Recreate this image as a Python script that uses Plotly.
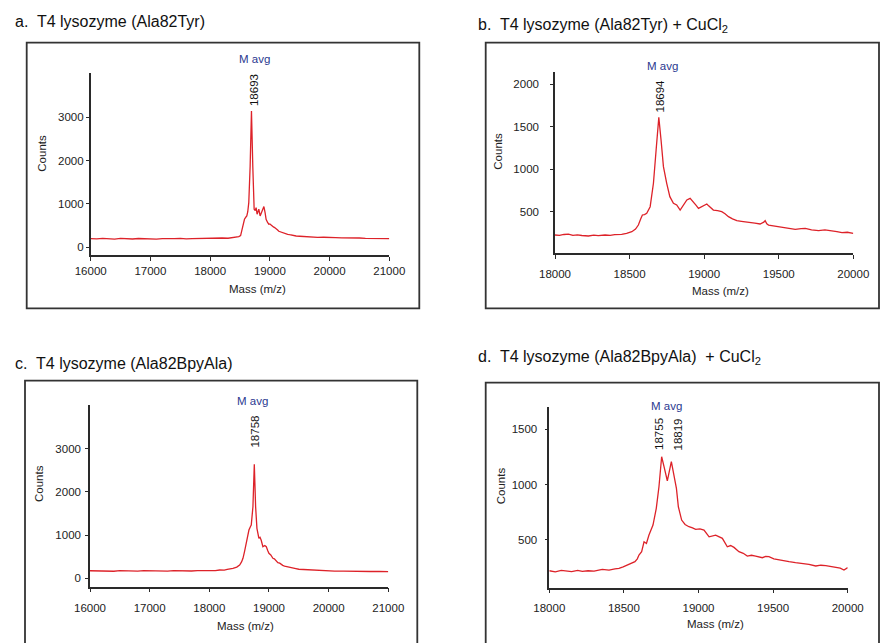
import plotly.graph_objects as go

W, H = 888, 643

# ---------------- data ----------------
mass_a = [16000, 16100, 16200, 16300, 16400, 16500, 16600, 16700, 16800, 16900, 17000, 17100,
          17200, 17300, 17400, 17500, 17600, 17700, 17800, 17900, 18000, 18100, 18200, 18300,
          18400, 18450, 18480, 18510, 18530, 18555, 18575, 18600, 18614, 18630, 18647, 18670,
          18692, 18714, 18737, 18755, 18770, 18786, 18800, 18815, 18837, 18860, 18882, 18900,
          18920, 18937, 18960, 18982, 19000, 19020, 19040, 19060, 19080, 19104, 19130, 19150,
          19170, 19187, 19210, 19240, 19270, 19299, 19330, 19370, 19400, 19440, 19500, 19550,
          19600, 19660, 19720, 19800, 19900, 20000, 20100, 20200, 20300, 20400, 20500, 20600,
          20700, 20800, 20900, 21000]
counts_a = [200, 192, 204, 196, 188, 205, 197, 191, 203, 195, 199, 190,
            202, 194, 200, 206, 193, 199, 204, 198, 208, 202, 214, 209,
            222, 230, 245, 270, 380, 560, 647, 700, 723, 820, 1032, 1878,
            3148, 1878, 878, 850, 916, 762, 800, 878, 723, 800, 916, 940,
            800, 647, 580, 531, 540, 508, 490, 470, 455, 416, 400, 370,
            360, 339, 330, 320, 305, 300, 290, 275, 270, 261, 255, 250,
            252, 247, 240, 230, 232, 220, 224, 215, 218, 210, 214, 205,
            208, 200, 203, 200]

mass_b = [18000, 18030, 18060, 18090, 18120, 18150, 18180, 18224, 18260, 18290, 18336, 18370,
          18400, 18447, 18480, 18515, 18540, 18559, 18575, 18586, 18600, 18615, 18638, 18660,
          18678, 18696, 18711, 18727, 18749, 18770, 18794, 18805, 18816, 18839, 18861, 18884,
          18906, 18928, 18945, 18962, 18980, 18996, 19018, 19030, 19040, 19062, 19090, 19118,
          19140, 19163, 19190, 19219, 19250, 19297, 19340, 19375, 19400, 19409, 19420, 19432,
          19480, 19521, 19560, 19611, 19650, 19678, 19720, 19767, 19810, 19857, 19890, 19924,
          19960, 20000]
counts_b = [230, 225, 236, 241, 226, 232, 224, 218, 228, 222, 230, 225,
            234, 238, 250, 269, 300, 347, 420, 465, 470, 484, 562, 837,
            1228, 1611, 1345, 1032, 837, 680, 602, 590, 582, 523, 582, 641,
            660, 621, 580, 543, 560, 570, 594, 572, 555, 523, 515, 504,
            480, 445, 420, 398, 390, 374, 368, 359, 380, 398, 360, 347,
            335, 320, 310, 297, 305, 308, 290, 281, 290, 281, 270, 257,
            262, 250]

mass_c = [16000, 16100, 16200, 16300, 16400, 16500, 16600, 16700, 16800, 16900, 17000, 17100,
          17200, 17300, 17400, 17500, 17600, 17700, 17800, 17900, 18000, 18100, 18174, 18250,
          18300, 18350, 18396, 18460, 18508, 18540, 18564, 18590, 18620, 18640, 18664, 18690,
          18703, 18731, 18754, 18776, 18798, 18831, 18850, 18870, 18898, 18930, 18955, 18980,
          18999, 19030, 19066, 19090, 19110, 19149, 19180, 19200, 19230, 19261, 19300, 19330,
          19370, 19400, 19450, 19500, 19560, 19623, 19700, 19780, 19846, 19950, 20100, 20250,
          20401, 20550, 20700, 20850, 21000]
counts_c = [175, 168, 178, 170, 164, 176, 169, 173, 165, 177, 172, 166,
            174, 168, 178, 171, 176, 169, 180, 174, 182, 178, 192, 188,
            205, 210, 231, 260, 308, 380, 463, 620, 810, 1000, 1118, 1200,
            1234, 1657, 2640, 1657, 1157, 926, 950, 880, 731, 760, 731, 640,
            578, 540, 463, 450, 410, 361, 350, 320, 300, 285, 270, 255,
            250, 231, 225, 210, 205, 192, 188, 180, 169, 172, 165, 168,
            162, 160, 158, 162, 155]

mass_d = [18000, 18040, 18080, 18110, 18150, 18190, 18221, 18260, 18300, 18355, 18400, 18440,
          18467, 18495, 18523, 18550, 18574, 18590, 18601, 18619, 18635, 18651, 18668, 18695,
          18717, 18735, 18753, 18769, 18791, 18818, 18836, 18852, 18865, 18887, 18910, 18936,
          18960, 18981, 19010, 19037, 19071, 19095, 19115, 19160, 19193, 19215, 19238, 19271,
          19300, 19327, 19355, 19383, 19405, 19428, 19450, 19472, 19505, 19540, 19575, 19607,
          19650, 19696, 19740, 19786, 19820, 19853, 19890, 19920, 19950, 19975, 20000]
counts_d = [222, 212, 225, 219, 214, 226, 216, 222, 218, 235, 228, 240,
            244, 258, 274, 285, 304, 330, 364, 394, 484, 469, 545, 635,
            786, 981, 1252, 1162, 1035, 1207, 1071, 966, 800, 680, 640, 620,
            610, 596, 600, 590, 529, 540, 544, 515, 439, 450, 433, 394,
            380, 355, 362, 355, 345, 340, 352, 349, 330, 319, 310, 304,
            295, 289, 280, 265, 272, 268, 258, 253, 245, 229, 250]

titles = ["a.\u00a0 T4 lysozyme (Ala82Tyr)",
          "b.\u00a0 T4 lysozyme (Ala82Tyr) + CuCl<sub>2</sub>",
          "c.\u00a0 T4 lysozyme (Ala82BpyAla)",
          "d.\u00a0 T4 lysozyme (Ala82BpyAla) \u00a0+ CuCl<sub>2</sub>"]
peaks_a = [18693]
peaks_b = [18694]
peaks_c = [18758]
peaks_d = [18755, 18819]
ticks_wide = [16000, 17000, 18000, 19000, 20000, 21000]
ticks_narrow = [18000, 18500, 19000, 19500, 20000]
yticks_a = [0, 1000, 2000, 3000]
yticks_b = [500, 1000, 1500, 2000]
yticks_c = [0, 1000, 2000, 3000]
yticks_d = [500, 1000, 1500]

# ---------------- layout helpers (pixel geometry) ----------------
def px_x(p):
    return p / W

def px_y(p):
    return 1 - p / H

RED = "#dd2229"
NAVY = "#2b3990"
AX = "#2a2a2a"
FONT = "Liberation Sans, Arial, sans-serif"

panels = [
    dict(m=mass_a, c=counts_a, peaks=peaks_a, xt=ticks_wide, yt=yticks_a,
         xs=(90.7, 389.3), ys=(73.3, 255), yr=(-178, 4016), xr=(16000, 21000),
         box=(26.7, 42.7, 419.3, 308.3), title=(13, 21.7),
         ytitle=(41.7, 153), xtitle=(257, 289), mavg=(254, 59), laby=90.5, shifts=[2],
         xso=0, yso=0),
    dict(m=mass_b, c=counts_b, peaks=peaks_b, xt=ticks_narrow, yt=yticks_b,
         xs=(555, 853.3), ys=(71.7, 253.3), yr=(15, 2147), xr=(18000, 20000),
         box=(485.7, 42.7, 879, 308.3), title=(476, 26),
         ytitle=(498, 151.7), xtitle=(720.7, 291), mavg=(662, 65.7), laby=96, shifts=[1],
         xso=5, yso=9),
    dict(m=mass_c, c=counts_c, peaks=peaks_c, xt=ticks_wide, yt=yticks_c,
         xs=(90, 388.3), ys=(405, 586.7), yr=(-194, 4012), xr=(16000, 21000),
         box=(25, 380.7, 417.3, 660), title=(13, 363),
         ytitle=(39, 484), xtitle=(245, 626), mavg=(252, 401), laby=432, shifts=[0],
         xso=6, yso=2),
    dict(m=mass_d, c=counts_d, peaks=peaks_d, xt=ticks_narrow, yt=yticks_d,
         xs=(549.3, 847.7), ys=(406.7, 587.7), yr=(69, 1704), xr=(18000, 20000),
         box=(485.7, 382.7, 879, 660), title=(476, 357),
         ytitle=(501.3, 486), xtitle=(715.7, 624), mavg=(666.7, 405.7), laby=434, shifts=[-3, 7],
         xso=5, yso=5),
]

fig = go.Figure()
shapes = []
annotations = []
layout_axes = {}

for i, p in enumerate(panels):
    n = "" if i == 0 else str(i + 1)
    xa, ya = "x" + n, "y" + n
    fig.add_trace(go.Scatter(x=p["m"], y=p["c"], mode="lines",
                             line=dict(color=RED, width=1.3),
                             xaxis=xa, yaxis=ya, showlegend=False, hoverinfo="skip"))
    layout_axes["xaxis" + n] = dict(
        domain=[px_x(p["xs"][0]), px_x(p["xs"][1])], anchor=ya, range=list(p["xr"]),
        tickvals=p["xt"], ticktext=[str(v) for v in p["xt"]], automargin=False,
        showline=True, linecolor=AX, linewidth=1.5, ticks="outside", ticklen=4,
        tickcolor=AX, tickwidth=1, showgrid=False, zeroline=False,
        ticklabelstandoff=p["xso"],
        tickfont=dict(family=FONT, size=11.5, color="#222"), fixedrange=True)
    layout_axes["yaxis" + n] = dict(
        domain=[px_y(p["ys"][1]), px_y(p["ys"][0])], anchor=xa, range=list(p["yr"]),
        tickvals=p["yt"], ticktext=[str(v) for v in p["yt"]], automargin=False,
        showline=True, linecolor=AX, linewidth=1.5, ticks="outside", ticklen=3,
        tickcolor=AX, tickwidth=1, showgrid=False, zeroline=False,
        ticklabelstandoff=p["yso"],
        tickfont=dict(family=FONT, size=11.5, color="#222"), fixedrange=True)

    bx0, by0, bx1, by1 = p["box"]
    shapes.append(dict(type="rect", xref="paper", yref="paper",
                       x0=px_x(bx0), x1=px_x(bx1), y0=px_y(by1), y1=px_y(by0),
                       line=dict(color="#333", width=1.8), fillcolor="rgba(0,0,0,0)"))

    annotations.append(dict(text=titles[i], xref="paper", yref="paper",
                            x=px_x(p["title"][0]), y=px_y(p["title"][1]),
                            xanchor="left", yanchor="middle", showarrow=False,
                            font=dict(family=FONT, size=16, color="#111")))
    annotations.append(dict(text="Counts", xref="paper", yref="paper",
                            x=px_x(p["ytitle"][0]), y=px_y(p["ytitle"][1]),
                            xanchor="center", yanchor="middle", textangle=-90, showarrow=False,
                            font=dict(family=FONT, size=11.5, color="#222")))
    annotations.append(dict(text="Mass (m/z)", xref="paper", yref="paper",
                            x=px_x(p["xtitle"][0]), y=px_y(p["xtitle"][1]),
                            xanchor="center", yanchor="middle", showarrow=False,
                            font=dict(family=FONT, size=11.5, color="#222")))
    annotations.append(dict(text="M avg", xref="paper", yref="paper",
                            x=px_x(p["mavg"][0]), y=px_y(p["mavg"][1]),
                            xanchor="center", yanchor="middle", showarrow=False,
                            font=dict(family=FONT, size=11.5, color=NAVY)))
    for pk, sh in zip(p["peaks"], p["shifts"]):
        annotations.append(dict(text=str(pk), xref=xa, yref="paper",
                                x=pk, y=px_y(p["laby"]), xshift=sh,
                                xanchor="center", yanchor="middle", textangle=-90,
                                showarrow=False,
                                font=dict(family=FONT, size=11.5, color="#111")))

fig.update_layout(
    template="none",
    width=W, height=H, autosize=False,
    margin=dict(l=0, r=0, t=0, b=0, pad=0, autoexpand=False),
    paper_bgcolor="white", plot_bgcolor="white",
    shapes=shapes, annotations=annotations, **layout_axes)

fig.write_html("out.html", config=dict(displayModeBar=False))
